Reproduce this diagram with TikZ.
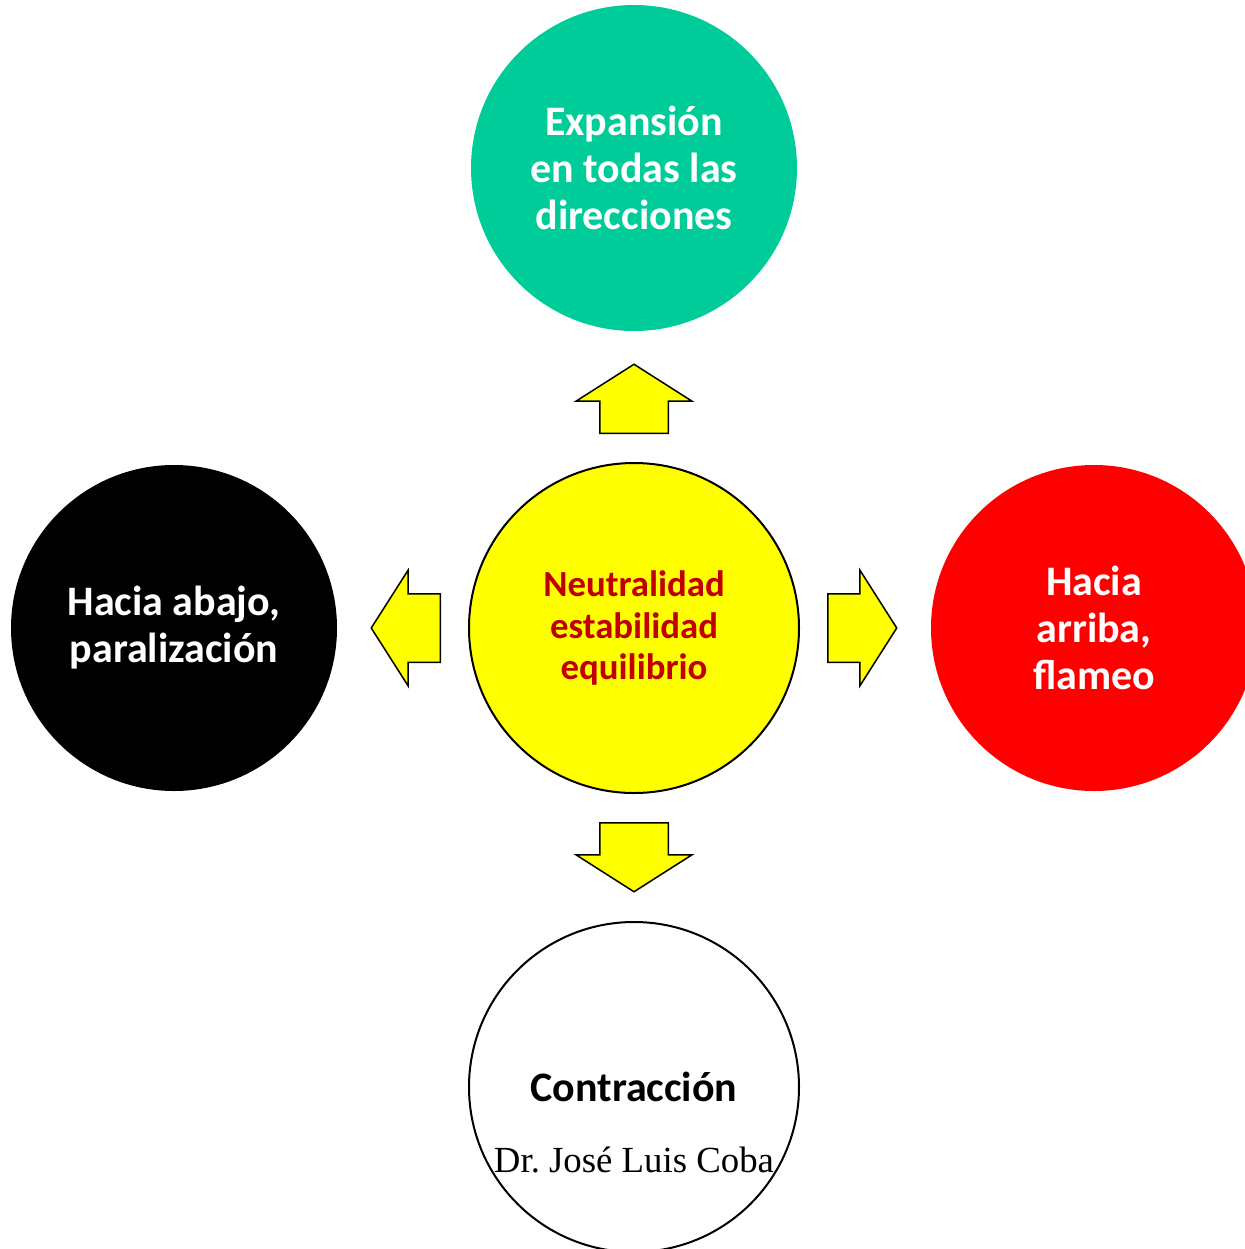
\documentclass[tikz,border=0pt]{standalone}
\usepackage{fontspec}
\setmainfont{Liberation Serif}
\newfontfamily\carlito{Carlito}
\usepackage{xcolor}
\usetikzlibrary{shapes.arrows,positioning}
\definecolor{verdeagua}{RGB}{0,204,153}
\definecolor{rojooscuro}{RGB}{192,0,0}
\definecolor{amarillo}{RGB}{255,255,0}

\tikzset{
  estado/.style={circle, minimum size=163pt, inner sep=0pt, align=center,
    font=\carlito\bfseries\fontsize{21}{23.5}\selectfont},
  flecha/.style={single arrow, draw, fill=amarillo, line width=0.75pt,
    minimum height=34.5pt, anchor=tail,
    single arrow head extend=11.75pt, single arrow tip angle=115}
}

\begin{document}
\begin{tikzpicture}[x=0.5pt,y=-0.5pt]
        \useasboundingbox (0,0) rectangle (1244,1249);

        \node[estado, fill=verdeagua, text=white] (expansion) at (634,168) {Expansión\\en todas las\\direcciones};
        \node[estado, fill=amarillo, draw, line width=1pt, minimum size=165pt, text=rojooscuro,
              font=\carlito\bfseries\fontsize{18.4}{20.8}\selectfont] (neutral) at (634,628) {Neutralidad\\estabilidad\\equilibrio};
        \node[estado, fill=black, text=white] (abajo) at (174,628) {Hacia abajo,\\paralización};
        \node[estado, fill=red, text=white] (arriba) at (1094,628) {Hacia\\arriba,\\flameo};
        \node[estado, fill=white, draw, line width=1pt, minimum size=165pt] (contraccion) at (634,1087) {Contracción};
        \node[font=\fontsize{18.4}{22}\selectfont, inner sep=0pt] (firma) at (634,1160) {Dr.\ José Luis Coba};

        % flechas puestas por su cola
        \foreach \ang/\pos/\nombre/\sx/\sy in {90/{634,434}/exp/16.75pt/0pt, 270/{634,822}/con/16.75pt/0pt,
                                              180/{441,628}/aba/0pt/16.75pt, 0/{827,628}/arr/0pt/16.75pt} {
            \node[flecha, shape border rotate=\ang, inner xsep=\sx, inner ysep=\sy] (f\nombre) at (\pos) {};
        }
    \end{tikzpicture}
\end{document}
